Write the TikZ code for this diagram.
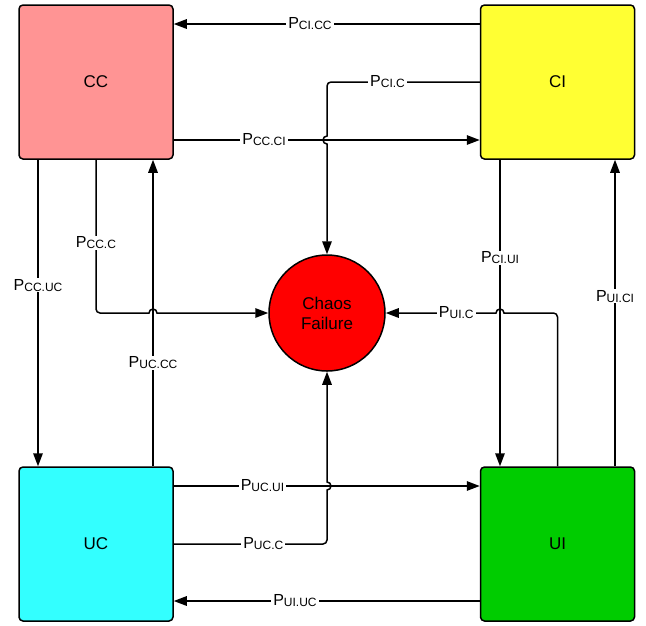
\documentclass[tikz,border=0pt]{standalone}
\usepackage{fontspec}
\setmainfont{Liberation Sans}
\usetikzlibrary{arrows.meta}
\definecolor{ccpink}{RGB}{255,148,148}
\definecolor{ciyellow}{RGB}{255,255,51}
\definecolor{uccyan}{RGB}{51,255,255}
\definecolor{uigreen}{RGB}{0,204,0}
\definecolor{chaosred}{RGB}{255,0,0}
% transition probability label: P with a smaller, slightly lowered index
\newcommand\plbl[1]{{\fontsize{16}{16}\selectfont P}\raisebox{-1pt}{\fontsize{12}{12}\selectfont #1}}

\begin{document}
\begin{tikzpicture}[x=1pt,y=-1pt,
  state/.style={draw=black, line width=1.5pt, rounded corners=4pt,
    minimum width=154pt, minimum height=154pt, inner sep=0pt,
    font=\fontsize{17}{20}\selectfont},
  chaos/.style={circle, draw=black, line width=1.5pt, fill=chaosred,
    minimum size=116pt, inner sep=0pt, align=center,
    font=\fontsize{17}{20}\selectfont},
  conn/.style={line width=1.5pt, -{Triangle[length=13pt,width=9.5pt]}},
  lbl/.style={fill=white, inner xsep=2pt, inner ysep=1pt, text=black},
]
\useasboundingbox (0,0) rectangle (646,625);

% states
\node[state, fill=ccpink]   (CC) at (96,82)    {CC};
\node[state, fill=ciyellow] (CI) at (557.5,82) {CI};
\node[state, fill=uccyan]   (UC) at (96,544)   {UC};
\node[state, fill=uigreen]  (UI) at (557.5,544) {UI};
\node[chaos] (CF) at (327,313) {Chaos\\Failure};

% transitions between the states
\draw[conn] ([yshift=58pt]CI.west) -- node[lbl,pos=0.555]{\plbl{CI.CC}} ([yshift=58pt]CC.east);
\draw[conn] ([yshift=-58pt]CC.east) -- node[lbl,pos=0.295]{\plbl{CC.CI}} ([yshift=-58pt]CI.west);
\draw[conn] ([xshift=-58pt]CC.south) -- node[lbl,pos=0.41]{\plbl{CC.UC}} ([xshift=-58pt]UC.north);
\draw[conn] ([xshift=57pt]UC.north) -- node[lbl,pos=0.338]{\plbl{UC.CC}} ([xshift=57pt]CC.south);
\draw[conn] ([xshift=-57.5pt]CI.south) -- node[lbl,pos=0.32]{\plbl{CI.UI}} ([xshift=-57.5pt]UI.north);
\draw[conn] ([xshift=57.5pt]UI.north) -- node[lbl,pos=0.555]{\plbl{UI.CI}} ([xshift=57.5pt]CI.south);
\draw[conn] ([yshift=58pt]UC.east) -- node[lbl,pos=0.29]{\plbl{UC.UI}} ([yshift=58pt]UI.west);
\draw[conn] ([yshift=-57pt]UI.west) -- node[lbl,pos=0.604]{\plbl{UI.UC}} ([yshift=-57pt]UC.east);

% transitions into chaos failure: a small rounded bend, then a line jump
% over the crossing connector
\draw[conn] (CI.west)
  -- node[lbl,pos=0.62]{\plbl{CI.C}} (331,82)
  arc[start angle=90,end angle=180,radius=4pt]
  -- (327,136) arc[start angle=90,end angle=270,radius=4pt] -- (CF.north);
\draw[conn] (CC.south)
  -- node[lbl,pos=0.555]{\plbl{CC.C}} (96,309)
  arc[start angle=180,end angle=270,radius=4pt]
  -- (149,313) arc[start angle=180,end angle=0,radius=4pt] -- (CF.west);
\draw[conn] (UI.north)
  -- (557.5,317)
  arc[start angle=0,end angle=90,radius=4pt]
  -- (504,313) arc[start angle=0,end angle=180,radius=4pt]
  -- node[lbl,pos=0.36]{\plbl{UI.C}} (CF.east);
\draw[conn] (UC.east)
  -- node[lbl,pos=0.6]{\plbl{UC.C}} (323,544)
  arc[start angle=-90,end angle=0,radius=4pt]
  -- (327,490) arc[start angle=-90,end angle=90,radius=4pt] -- (CF.south);
\end{tikzpicture}
\end{document}
